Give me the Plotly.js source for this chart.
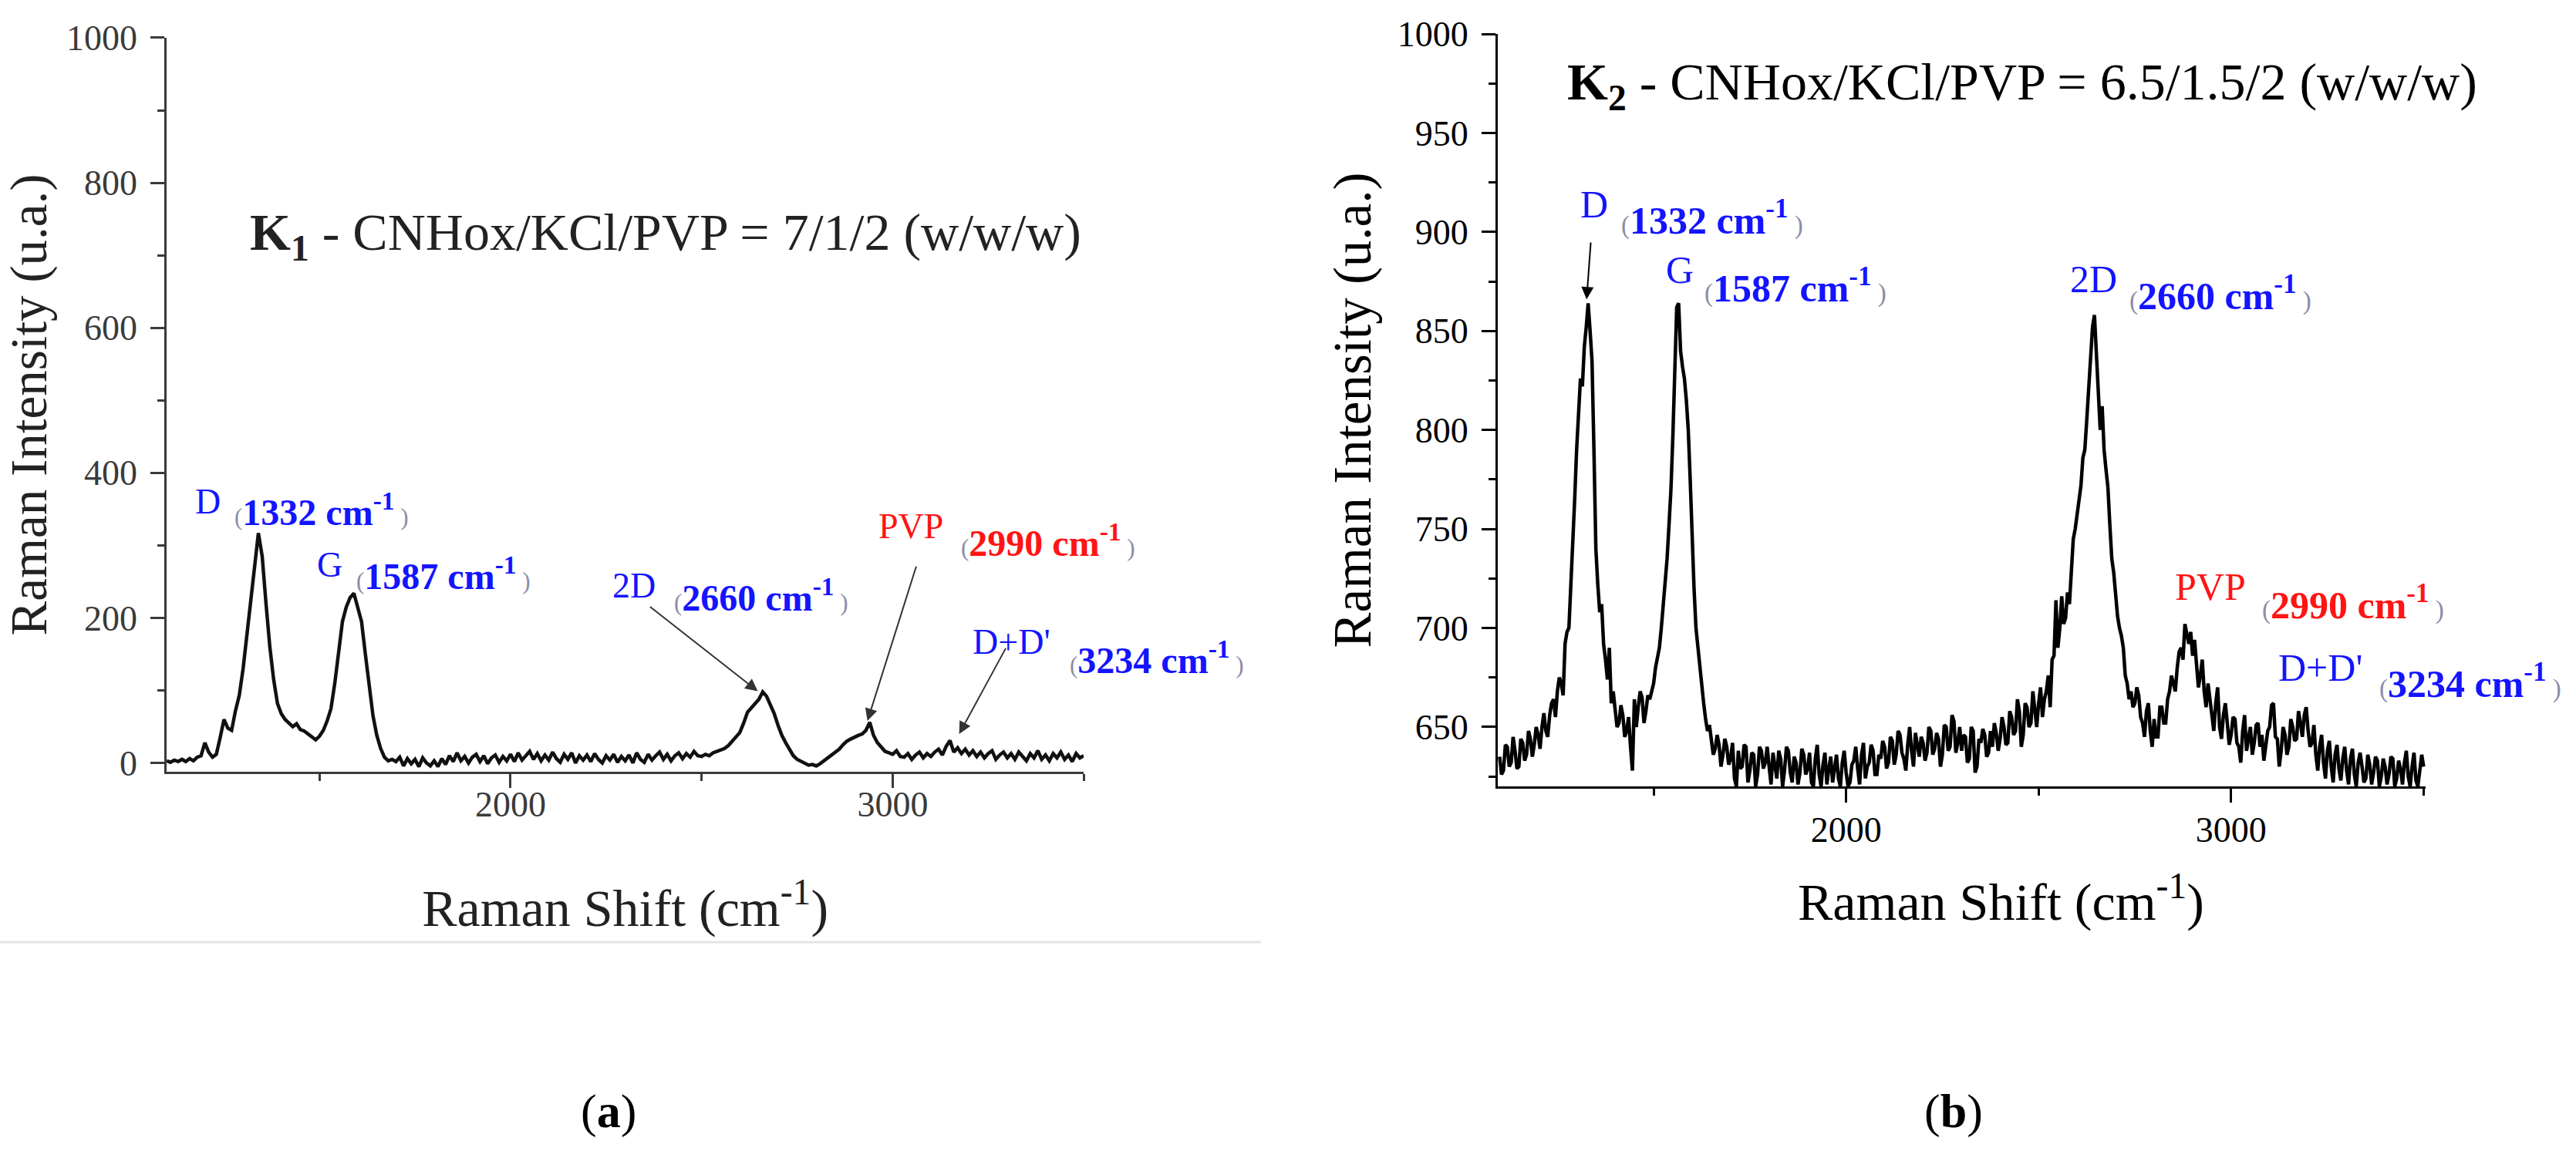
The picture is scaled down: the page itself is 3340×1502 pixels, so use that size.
<!DOCTYPE html>
<html>
<head>
<meta charset="utf-8">
<script src="https://cdn.plot.ly/plotly-3.0.1.min.js"></script>
<style>
  html, body { margin: 0; padding: 0; background: #fff; }
  #raman { width: 3340px; height: 1502px; }
</style>
</head>
<body>
<div id="raman"></div>
<script>
// Raman shift axis: both spectra start at 1100 cm-1
var shiftStart = 1100;
var shiftStepK1 = 10;
var shiftStepK2 = 5;

// (a) K1 - CNHox/KCl/PVP = 7/1/2, one value every 10 cm-1
var intensityK1 = [
  3, 1, 4, 2, 5, 2, 6, 3, 8, 10,
  28, 15, 8, 12, 35, 60, 48, 45, 72, 93,
  130, 180, 225, 270, 317, 285, 220, 160, 115, 82,
  68, 60, 55, 50, 54, 46, 44, 40, 36, 32,
  37, 45, 58, 75, 110, 155, 195, 215, 228, 234,
  215, 195, 150, 110, 65, 38, 20, 8, 3, 5,
  2, 8, -4, 6, -1, 5, -5, 7, 0, -4,
  3, -5, 6, -2, 10, 2, 14, 3, 9, 0,
  8, 12, 2, 10, -1, 7, 11, 1, 9, 3,
  12, 2, 14, 4, 10, 16, 5, 13, 3, 11,
  4, 15, 6, 1, 12, 5, 14, 0, 10, 4,
  11, 2, 13, 5, 0, 10, 4, 12, 1, 9,
  3, 11, 0, 14, 5, 1, 12, 4, 10, 15,
  5, 12, 3, 10, 14, 6, 13, 8, 16, 10,
  9, 12, 10, 14, 16, 18, 20, 24, 30, 36,
  42, 55, 70, 76, 82, 88, 98, 92, 80, 68,
  52, 38, 28, 18, 10, 5, 2, 0, -3, -2,
  -4, -1, 3, 6, 10, 15, 19, 25, 30, 33,
  36, 38, 40, 45, 56, 38, 28, 22, 16, 14,
  12, 17, 9, 8, 13, 5, 11, 15, 7, 13,
  9, 15, 19, 11, 23, 31, 15, 21, 13, 19,
  11, 17, 9, 15, 7, 13, 17, 5, 11, 15,
  7, 13, 5, 15, 9, 3, 13, 7, 17, 5,
  11, 3, 13, 7, 15, 5, 11, 2, 13, 7,
  10
];

// (b) K2 - CNHox/KCl/PVP = 6.5/1.5/2, one value every 5 cm-1
var intensityK2 = [
  635, 626, 628, 641, 640, 630, 632, 645, 638, 629, 630, 644, 642, 633, 636, 648, 644, 635, 641, 650,
  646, 639, 650, 657, 648, 645, 656, 662, 664, 655, 668, 675, 672, 666, 692, 698, 700, 720, 740, 765,
  790, 812, 826, 822, 842, 852, 864, 850, 835, 790, 740, 722, 708, 712, 692, 684, 674, 690, 662, 668,
  660, 650, 652, 661, 656, 645, 648, 655, 640, 628, 664, 650, 660, 668, 665, 652, 658, 666, 664, 668,
  672, 680, 686, 690, 700, 712, 722, 735, 752, 770, 797, 830, 862, 864, 840, 832, 826, 815, 800, 775,
  745, 720, 700, 690, 678, 670, 662, 654, 648, 651, 642, 636, 639, 646, 641, 630, 636, 644, 640, 631,
  634, 642, 624, 620, 638, 629, 630, 641, 640, 622, 628, 637, 636, 620, 626, 640, 638, 629, 632, 640,
  630, 621, 637, 630, 624, 638, 634, 620, 628, 640, 638, 627, 622, 635, 632, 621, 627, 639, 636, 626,
  629, 637, 622, 620, 634, 641, 626, 620, 631, 637, 621, 629, 635, 622, 628, 636, 624, 620, 632, 638,
  627, 620, 622, 631, 633, 640, 629, 621, 636, 642, 624, 630, 632, 641, 638, 626, 626, 636, 634, 643,
  640, 629, 632, 645, 643, 631, 636, 648, 646, 637, 634, 628, 641, 650, 638, 630, 647, 641, 635, 645,
  642, 633, 637, 650, 648, 636, 639, 647, 644, 630, 636, 651, 650, 638, 640, 656, 653, 637, 642, 650,
  638, 646, 645, 632, 634, 650, 648, 627, 630, 644, 642, 649, 646, 635, 637, 648, 640, 652, 647, 638,
  644, 655, 650, 641, 642, 658, 655, 646, 648, 664, 658, 640, 646, 662, 660, 650, 652, 668, 657, 650,
  662, 670, 655, 664, 668, 676, 660, 684, 686, 714, 690, 700, 716, 702, 705, 718, 712, 730, 745, 750,
  758, 766, 772, 786, 790, 805, 820, 838, 852, 858, 838, 818, 800, 812, 790, 780, 771, 752, 735, 728,
  714, 706, 700, 696, 690, 676, 672, 664, 668, 660, 662, 670, 666, 655, 652, 645, 658, 662, 648, 640,
  654, 645, 645, 660, 660, 652, 652, 664, 668, 676, 672, 668, 680, 688, 690, 684, 702, 696, 692, 698,
  686, 694, 680, 670, 676, 684, 668, 660, 672, 664, 658, 648, 662, 670, 650, 644, 656, 662, 652, 641,
  646, 655, 654, 642, 640, 632, 648, 656, 638, 645, 650, 636, 642, 651, 652, 640, 646, 633, 640, 648,
  650, 661, 662, 645, 644, 630, 638, 650, 646, 636, 640, 654, 650, 643, 644, 658, 652, 645, 656, 660,
  648, 640, 642, 651, 636, 628, 640, 646, 632, 624, 638, 643, 630, 622, 636, 641, 629, 623, 634, 640,
  628, 621, 634, 639, 626, 620, 632, 637, 630, 622, 624, 636, 631, 621, 627, 635, 633, 620, 625, 634,
  630, 621, 626, 635, 634, 620, 624, 633, 629, 621, 632, 638, 625, 620, 630, 637, 623, 620, 628, 636,
  630
];

var peakNames = ['D', 'G', '2D', 'PVP', "D+D'"];
var peakShifts = ['1332', '1587', '2660', '2990', '3234'];
var peakColors = ['#1414ff', '#1414ff', '#1414ff', '#ff1414', '#1414ff'];

var panelTitles = [
  '<b>K</b><sub><b>1</b></sub> - CNHox/KCl/PVP = 7/1/2 (w/w/w)',
  '<b>K</b><sub><b>2</b></sub> - CNHox/KCl/PVP = 6.5/1.5/2 (w/w/w)'
];
var panelLetters = ['(<b>a</b>)', '(<b>b</b>)'];

var FONT = 'Liberation Serif, "DejaVu Serif", serif';

// where each label sits on its panel: [name x, name y, shift x, shift y]
var labelSpotsA = [
  [1170, 361, 1273, 349],
  [1489, 273, 1593, 261],
  [2263, 245, 2423, 231],
  [2958, 326, 3174, 307],
  [3206, 167, 3460, 145]
];
var labelSpotsB = [
  [1306, 914, 1412, 907],
  [1527, 881, 1628, 873],
  [2577, 876, 2732, 869],
  [2851, 721, 3077, 713],
  [3119, 680, 3380, 673]
];

function peakLabels(xref, yref, spots, nameSize, numSize){
  var out = [];
  spots.forEach(function(s, i){
    out.push({
      xref: xref, yref: yref, x: s[0], y: s[1],
      xanchor: 'left', yanchor: 'middle', showarrow: false,
      text: peakNames[i],
      font: {family: FONT, size: nameSize, color: peakColors[i]}
    });
    out.push({
      xref: xref, yref: yref, x: s[2], y: s[3],
      xanchor: 'left', yanchor: 'middle', showarrow: false,
      text: '<span style="font-size:' + Math.round(numSize*0.65) + 'px;color:#8c8ca8">(</span>' +
            '<b>' + peakShifts[i] + ' cm<sup>-1</sup></b>' +
            '<span style="font-size:' + Math.round(numSize*0.65) + 'px;color:#8c8ca8"> )</span>',
      font: {family: FONT, size: numSize, color: peakColors[i]}
    });
  });
  return out;
}

function arrow(xref, yref, x, y, ax, ay, color){
  return {
    xref: xref, yref: yref, axref: xref, ayref: yref,
    x: x, y: y, ax: ax, ay: ay, text: ' ', showarrow: true,
    arrowhead: 2, arrowsize: 1.6, arrowwidth: 2, arrowcolor: color
  };
}

function axisStyle(color, standoff){
  return {
    showline: true, linewidth: 3, linecolor: color,
    ticks: 'outside', ticklen: 18, tickwidth: 3, tickcolor: color,
    showgrid: false, zeroline: false, automargin: false,
    tickfont: {family: FONT, size: 46, color: color},
    ticklabelstandoff: standoff
  };
}

var data = [
  {x0: shiftStart, dx: shiftStepK1, y: intensityK1, type: 'scatter', mode: 'lines',
   line: {color: '#111', width: 4.5}, xaxis: 'x', yaxis: 'y', hoverinfo: 'x+y'},
  {x0: shiftStart, dx: shiftStepK2, y: intensityK2, type: 'scatter', mode: 'lines',
   line: {color: '#000', width: 4.5}, xaxis: 'x2', yaxis: 'y2', hoverinfo: 'x+y'}
];

var xa = axisStyle('#3a3a3a', -18);
xa.domain = [0.0647, 0.4207]; xa.range = [1100, 3500]; xa.dtick = 1000; xa.tick0 = 0;
xa.minor = {dtick: 500, ticks: 'outside', ticklen: 9, tickwidth: 3, tickcolor: '#3a3a3a'};
xa.anchor = 'y';
xa.title = {text: 'Raman Shift (cm<sup>-1</sup>)', standoff: 86, font: {family: FONT, size: 68, color: '#222'}};

var ya = axisStyle('#3a3a3a', 8);
ya.domain = [0.3336, 0.9674]; ya.range = [-12, 1000]; ya.dtick = 200; ya.tick0 = 0;
ya.minor = {dtick: 100, ticks: 'outside', ticklen: 9, tickwidth: 3, tickcolor: '#3a3a3a'};
ya.anchor = 'x';
ya.title = {text: 'Raman Intensity (u.a.)', standoff: 4, font: {family: FONT, size: 67, color: '#222'}};

var xb = axisStyle('#000', -4);
xb.domain = [0.5814, 0.9416]; xb.range = [1095, 3505]; xb.dtick = 1000; xb.tick0 = 0;
xb.minor = {dtick: 500, ticks: 'outside', ticklen: 9, tickwidth: 3, tickcolor: '#000'};
xb.anchor = 'y2';
xb.title = {text: '&nbsp;&nbsp;&nbsp;&nbsp;&nbsp;&nbsp;Raman Shift (cm<sup>-1</sup>)', standoff: 45,
            font: {family: FONT, size: 68, color: '#000'}};

var yb = axisStyle('#000', 8);
yb.domain = [0.3209, 0.9707]; yb.range = [620, 1000]; yb.dtick = 50; yb.tick0 = 0;
yb.minor = {dtick: 25, ticks: 'outside', ticklen: 9, tickwidth: 3, tickcolor: '#000'};
yb.anchor = 'x2';
yb.title = {text: 'Raman Intensity (u.a.)', standoff: 12, font: {family: FONT, size: 69, color: '#000'}};

var annotations = []
  .concat(peakLabels('x', 'y', labelSpotsA, 46, 48))
  .concat(peakLabels('x2', 'y2', labelSpotsB, 50, 50))
  .concat([
    arrow('x', 'y', 2647, 99, 2359, 218, '#333'),
    arrow('x', 'y', 2934, 58, 3067, 280, '#333'),
    arrow('x', 'y', 3174, 40, 3302, 164, '#333'),
    arrow('x2', 'y2', 1326, 866, 1338, 898, '#000'),
    {xref: 'x', yref: 'y', x: 1314, y: 727, xanchor: 'left', yanchor: 'middle',
     showarrow: false, text: panelTitles[0], font: {family: FONT, size: 68, color: '#222'}},
    {xref: 'x2', yref: 'y2', x: 1272, y: 974, xanchor: 'left', yanchor: 'middle',
     showarrow: false, text: panelTitles[1], font: {family: FONT, size: 68, color: '#000'}},
    {xref: 'paper', yref: 'paper', x: 0.2362, y: 0.0406, xanchor: 'center', yanchor: 'middle',
     showarrow: false, text: panelLetters[0], font: {family: FONT, size: 62, color: '#000'}},
    {xref: 'paper', yref: 'paper', x: 0.7584, y: 0.0406, xanchor: 'center', yanchor: 'middle',
     showarrow: false, text: panelLetters[1], font: {family: FONT, size: 62, color: '#000'}}
  ]);

var layout = {
  width: 3340, height: 1502,
  margin: {l: 0, r: 0, t: 0, b: 0},
  paper_bgcolor: '#fff', plot_bgcolor: '#fff',
  font: {family: FONT},
  showlegend: false,
  xaxis: xa, yaxis: ya, xaxis2: xb, yaxis2: yb,
  annotations: annotations,
  shapes: [
    {type: 'line', xref: 'paper', yref: 'paper', x0: 0, x1: 0.4895, y0: 0.1864, y1: 0.1864,
     line: {color: '#e4e4e4', width: 3}}
  ]
};

Plotly.newPlot('raman', data, layout, {displayModeBar: false});
</script>
</body>
</html>
